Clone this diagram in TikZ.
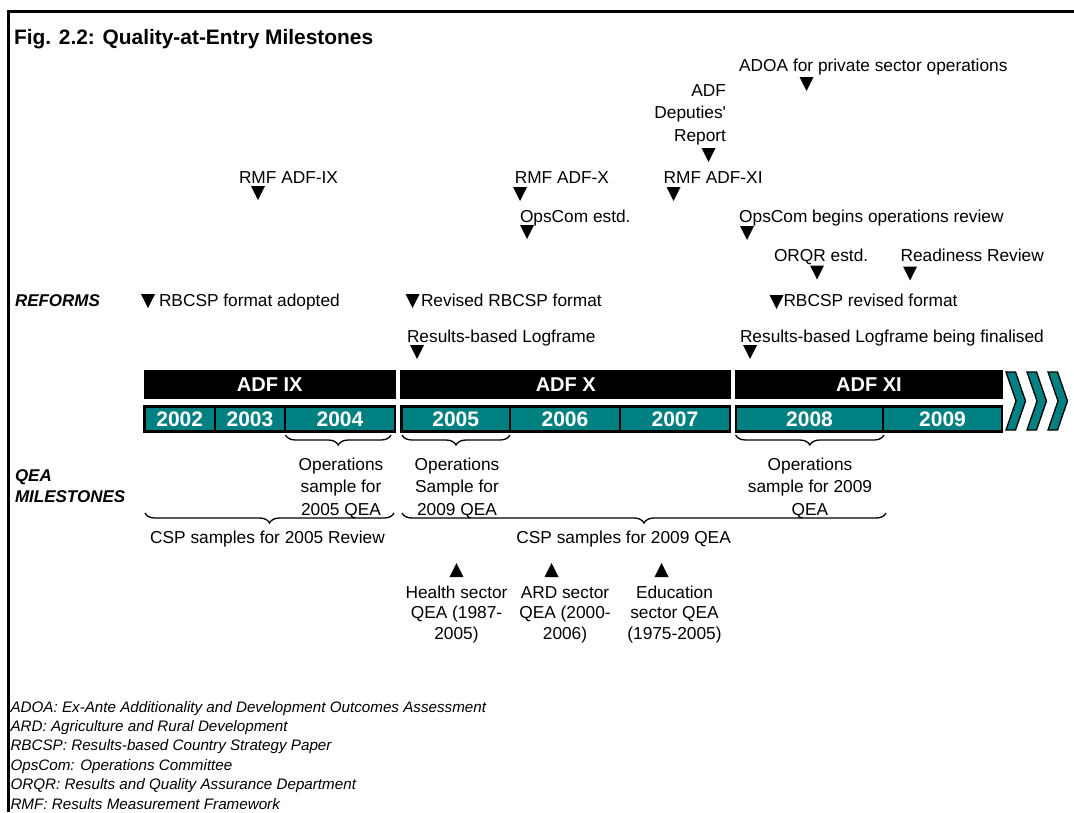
\documentclass[tikz,border=0pt]{standalone}
\usepackage{fontspec}
\setmainfont{Liberation Sans}
\usetikzlibrary{decorations.pathreplacing}
\definecolor{tealfill}{RGB}{0,128,128}
\begin{document}
\begin{tikzpicture}[x=1pt,y=-1pt,
  lbl/.style={inner sep=0pt, outer sep=0pt, font=\fontsize{17.3}{22.5}\selectfont},
  lblb/.style={inner sep=0pt, outer sep=0pt, font=\fontsize{17.3}{20.5}\selectfont},
  hdr/.style={inner sep=0pt, outer sep=0pt, font=\bfseries\itshape\fontsize{17}{21}\selectfont},
  ttl/.style={inner sep=0pt, outer sep=0pt, font=\bfseries\fontsize{20.9}{25}\selectfont},
  legendtxt/.style={inner sep=0pt, outer sep=0pt, font=\itshape\fontsize{15.2}{19.4}\selectfont},
  adfbar/.style={fill=black, inner sep=0pt, outer sep=0pt, minimum height=29pt, text=white, font=\bfseries\fontsize{20}{24}\selectfont},
  yrbox/.style={fill=tealfill, draw=black, line width=2.5pt, inner sep=0pt, outer sep=0pt, minimum height=25pt, text=white, font=\bfseries\fontsize{21}{24}\selectfont},
  brc/.style={decorate, decoration={brace, mirror, amplitude=10pt}, line width=1.3pt},
  chev/.style={fill=tealfill, draw=black, line width=1.3pt, line join=miter},
  frame/.style={line width=2.7pt},
  pics/dtri/.style={code={\fill (-7,0) -- (7,0) -- (0,14) -- cycle;}},
  pics/utri/.style={code={\fill (-7,14) -- (7,14) -- (0,0) -- cycle;}}
]
\useasboundingbox (0,0) rectangle (1074,812);
% frame
\draw[frame] (7.35,11.3) -- (1074,11.3);
\draw[frame] (8.7,10) -- (8.7,812);

% title
\node[ttl, anchor=base west] (title) at (14,44) {Fig. 2.2: Quality-at-Entry Milestones};

% upper milestones
\node[lbl, anchor=base west] (rmf9) at (239,183.5) {RMF ADF-IX};
\pic at (258,186) {dtri};
\node[lbl, anchor=base west] (rmf10) at (514.8,183.5) {RMF ADF-X};
\pic at (520,187) {dtri};
\node[lbl, anchor=base west] (opsest) at (520,222.5) {OpsCom estd.};
\pic at (527,225) {dtri};
\node[lbl, anchor=base west] (rmf11) at (663.6,183.5) {RMF ADF-XI};
\pic at (673.5,187) {dtri};
\node[lbl, anchor=base east, align=right] (deputies) at (726,141) {ADF\\Deputies\textquotesingle\\Report};
\pic at (708.5,148) {dtri};
\node[lbl, anchor=base west] (adoa) at (739.2,71) {ADOA for private sector operations};
\pic at (806.5,77) {dtri};
\node[lbl, anchor=base west] (opsrev) at (739.2,222.5) {OpsCom begins operations review};
\pic at (747,226) {dtri};
\node[lbl, anchor=base west] (orqr) at (774,261) {ORQR estd.};
\pic at (817,265.5) {dtri};
\node[lbl, anchor=base west] (readiness) at (900.6,261) {Readiness Review};
\pic at (910,266.5) {dtri};

% reforms row
\node[hdr, anchor=base west] (reforms) at (15,306.5) {REFORMS};
\pic at (148,294) {dtri};
\node[lbl, anchor=base west] (rbcsp1) at (159,306.5) {RBCSP format adopted};
\pic at (412.5,294) {dtri};
\node[lbl, anchor=base west] (rbcsp2) at (421,306.5) {Revised RBCSP format};
\pic at (776.5,295) {dtri};
\node[lbl, anchor=base west] (rbcsp3) at (783.5,306.5) {RBCSP revised format};
\node[lbl, anchor=base west] (logf1) at (407,342.5) {Results-based Logframe};
\pic at (417,345) {dtri};
\node[lbl, anchor=base west] (logf2) at (740,342.5) {Results-based Logframe being finalised};
\pic at (750,345) {dtri};

% ADF bars
\node[adfbar, minimum width=252.5pt] (adf9) at (269.75,384.5) {ADF IX};
\node[adfbar, minimum width=331pt] (adf10) at (565.75,384.5) {ADF X};
\node[adfbar, minimum width=268.5pt] (adf11) at (869,384.5) {ADF XI};

% year boxes
\node[yrbox, minimum width=70.5pt] (y2002) at (179.75,419) {2002};
\node[yrbox, minimum width=70pt] (y2003) at (250,419) {2003};
\node[yrbox, minimum width=110pt] (y2004) at (340,419) {2004};
\node[yrbox, minimum width=108.5pt] (y2005) at (455.75,419) {2005};
\node[yrbox, minimum width=110pt] (y2006) at (565,419) {2006};
\node[yrbox, minimum width=110pt] (y2007) at (675,419) {2007};
\node[yrbox, minimum width=147pt] (y2008) at (809.5,419) {2008};
\node[yrbox, minimum width=119pt] (y2009) at (942.5,419) {2009};

% chevrons
\foreach \i in {0,1,2} {
  \filldraw[chev] ({1006+21*\i},372) -- ++(9.5,0) -- ++(10,29) -- ++(-10,29) -- ++(-9.5,0) -- ++(10,-29) -- cycle;
}

% small braces
\draw[brc] (285.5,435) -- (391,435);
\draw[brc] (402,435) -- (510,435);
\draw[brc] (735.6,435) -- (884,435);

% QEA milestones
\node[hdr, anchor=base west, align=left] (qea) at (15,502) {QEA\\MILESTONES};
\node[lbl, anchor=base, align=center] (ops05) at (341,515) {Operations\\sample for\\2005 QEA};
\node[lbl, anchor=base, align=center] (ops09a) at (457,515) {Operations\\Sample for\\2009 QEA};
\node[lbl, anchor=base, align=center] (ops09b) at (810,515) {Operations\\sample for 2009\\QEA};

% big braces
\draw[brc] (145,513) -- (394,513);
\draw[brc] (402,513) -- (886,513);
\node[lbl, anchor=base] (csp05) at (267.5,543) {CSP samples for 2005 Review};
\node[lbl, anchor=base] (csp09) at (623.6,543) {CSP samples for 2009 QEA};

% sector QEAs
\pic at (456.5,563) {utri};
\node[lblb, anchor=base, align=center] (health) at (456.5,639) {Health sector\\QEA (1987-\\2005)};
\pic at (551.5,563) {utri};
\node[lblb, anchor=base, align=center] (ard) at (565,639) {ARD sector\\QEA (2000-\\2006)};
\pic at (661.5,563) {utri};
\node[lblb, anchor=base, align=center] (edu) at (674.5,639) {Education\\sector QEA\\(1975-2005)};

% legend
\node[legendtxt, anchor=base west, align=left] (legend) at (10.5,809) {ADOA: Ex-Ante Additionality and Development Outcomes Assessment\\ARD: Agriculture and Rural Development\\RBCSP: Results-based Country Strategy Paper\\OpsCom: Operations Committee\\ORQR: Results and Quality Assurance Department\\RMF: Results Measurement Framework};
\end{tikzpicture}
\end{document}
